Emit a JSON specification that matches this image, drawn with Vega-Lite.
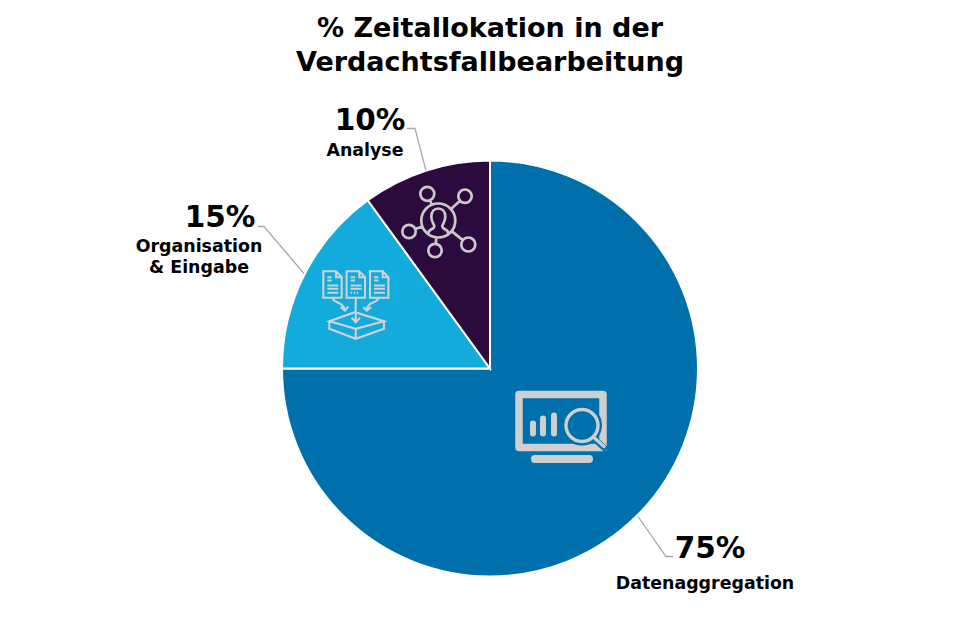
{
"$schema":"https://vega.github.io/schema/vega-lite/v6.json",
"autosize":"none","width":938,"height":513,
"padding":{"left":21,"top":112,"right":0,"bottom":0},
"background":"white","view":{"stroke":null},
"title":{"text":["% Zeitallokation in der","Verdachtsfallbearbeitung"],"font":"DejaVu Sans","fontSize":27,"fontWeight":"bold","color":"#000000","anchor":"middle","lineHeight":34,"offset":29},
"datasets":{
"slices":[{"name":"Datenaggregation","value":75,"o":1},{"name":"Organisation & Eingabe","value":15,"o":2},{"name":"Analyse","value":10,"o":3}],
"pct":[{"t":"75%","x":220,"y":-180},{"t":"15%","x":-270,"y":151},{"t":"10%","x":-120,"y":248}],
"names":[{"t":"Datenaggregation","x":215,"y":-215},{"t":"Organisation","x":-291,"y":122},{"t":"& Eingabe","x":-291,"y":101},{"t":"Analyse","x":-125,"y":218}],
"leaders":[{"id":"a","s":1,"x":148,"y":-148},{"id":"a","s":2,"x":176,"y":-188},{"id":"a","s":3,"x":183,"y":-188},{"id":"b","s":1,"x":-232,"y":142},{"id":"b","s":2,"x":-226,"y":142},{"id":"b","s":3,"x":-186,"y":95},{"id":"c","s":1,"x":-83,"y":240},{"id":"c","s":2,"x":-75,"y":240},{"id":"c","s":3,"x":-64,"y":198}],
"monitor":[{"x":70,"y":-57}],"docs":[{"x":-135,"y":63}],"net":[{"x":-51.7,"y":148}]
},
"encoding":{
"x":{"field":"x","type":"quantitative","scale":{"domain":[-469,469]},"axis":null},
"y":{"field":"y","type":"quantitative","scale":{"domain":[-256.5,256.5]},"axis":null}
},
"layer":[
{"data":{"name":"slices"},"mark":{"type":"arc","outerRadius":208,"stroke":"white","strokeWidth":2},
"encoding":{"x":null,"y":null,"theta":{"field":"value","type":"quantitative","stack":true,"scale":{"domain":[0,100]}},"order":{"field":"o"},
"color":{"field":"name","type":"nominal","legend":null,"scale":{"domain":["Datenaggregation","Organisation & Eingabe","Analyse"],"range":["#0070AD","#12ABDB","#2B0A3D"]}}}},
{"data":{"name":"leaders"},"mark":{"type":"line","color":"#A9A9A9","strokeWidth":1.3},"encoding":{"detail":{"field":"id"},"order":{"field":"s"}}},
{"data":{"name":"pct"},"mark":{"type":"text","font":"DejaVu Sans","fontWeight":"bold","fontSize":29.5,"color":"#000000","align":"center","baseline":"middle"},"encoding":{"text":{"field":"t"}}},
{"data":{"name":"names"},"mark":{"type":"text","font":"DejaVu Sans","fontWeight":"bold","fontSize":17.4,"color":"#000000","align":"center","baseline":"middle"},"encoding":{"text":{"field":"t"}}},
{"data":{"name":"monitor"},"mark":{"type":"point","size":4,"filled":false,"stroke":"#CFCFCF","strokeWidth":7.5,"opacity":1,"strokeJoin":"round","shape":"M-41,-31H43V22H-41Z"}},
{"data":{"name":"monitor"},"mark":{"type":"point","size":4,"filled":false,"stroke":"#0070AD","strokeWidth":6,"opacity":1,"shape":"M5,0a17,17 0 1,0 34,0a17,17 0 1,0 -34,0M34,13L46,24"}},
{"data":{"name":"monitor"},"mark":{"type":"point","size":4,"filled":false,"stroke":"#CFCFCF","strokeWidth":6,"opacity":1,"strokeCap":"round","shape":"M-27,-2V8M-17,-7V8M-6,-10V8"}},
{"data":{"name":"monitor"},"mark":{"type":"point","size":4,"filled":false,"stroke":"#CFCFCF","strokeWidth":8,"opacity":1,"strokeCap":"round","shape":"M-25,33.5H29"}},
{"data":{"name":"monitor"},"mark":{"type":"point","size":4,"filled":false,"stroke":"#CFCFCF","strokeWidth":3.4,"opacity":1,"strokeCap":"round","shape":"M6,0a16,16 0 1,0 32,0a16,16 0 1,0 -32,0M35,13L44,21"}},
{"data":{"name":"docs"},"mark":{"type":"point","size":4,"filled":false,"stroke":"#D2D2D2","strokeWidth":2.1,"opacity":1,"shape":"M-31.7,-34.3H-19L-13.3,-28.3V-7.7H-31.7ZM-19,-34.3V-28.3H-13.3M-27.7,-20H-16.7M-27.7,-16.7H-16.7M-27.7,-12.7H-16.7M-27.7,-28.3H-23.3M-27.7,-25H-23.3M-8.4,-34.3H4.3L10,-28.3V-7.7H-8.4ZM4.3,-34.3V-28.3H10M-4.4,-20H6.6M-4.4,-16.7H6.6M-4.4,-12.7H-2.9M-1.4,-12.7H0.1M1.6,-12.7H3.1M-4.4,-28.3H0M-4.4,-25H0M15,-34.3H27.7L33.4,-28.3V-7.7H15ZM27.7,-34.3V-28.3H33.4M19,-20H30M19,-16.7H30M19,-12.7H30M19,-28.3H23.4M19,-25H23.4M0.7,-7.7V16.7M-3.3,12.3L0.7,16.7L5,12.3M-22.3,-7.7C-22.3,-1.7,-11.7,-5,-10,5M-14.3,1.7L-10,5L-6.7,1M23.3,-7.7C23.3,-1.7,12.3,-5,11.7,5M8.3,1.7L11.7,5L16,1.7M-25.7,15.7L0,6.7L29,15.7L0.7,23.3ZM-25.7,15.7V23.3L0.7,33.3L29,23.3V15.7M0.7,23.3V33.3"}},
{"data":{"name":"net"},"mark":{"type":"point","size":4,"filled":false,"stroke":"#C9C9C9","strokeWidth":2.7,"opacity":1,"shape":"M-17,0a17,17 0 1,0 34,0a17,17 0 1,0 -34,0M-18,-26.7a7,7 0 1,0 14,0a7,7 0 1,0 -14,0M20,-24.3a6.7,6.7 0 1,0 13.4,0a6.7,6.7 0 1,0 -13.4,0M-36,11a6.7,6.7 0 1,0 13.4,0a6.7,6.7 0 1,0 -13.4,0M-10,30a6.7,6.7 0 1,0 13.4,0a6.7,6.7 0 1,0 -13.4,0M23,24a7,7 0 1,0 14,0a7,7 0 1,0 -14,0M-6.5,-15.7L-8.3,-20.2M12.6,-11.4L21.8,-19.8M-15.9,6L-23,8.6M-1.9,16.9L-2.6,23.3M13.3,10.6L24.5,19.6M-10,13C-10,8,-4,9,-4,6C-4,3,-7,2,-7,-4C-7,-9,-4,-12,0,-12C4,-12,7,-9,7,-4C7,2,4,3,4,6C4,9,10,8,10,13"}}
]
}
